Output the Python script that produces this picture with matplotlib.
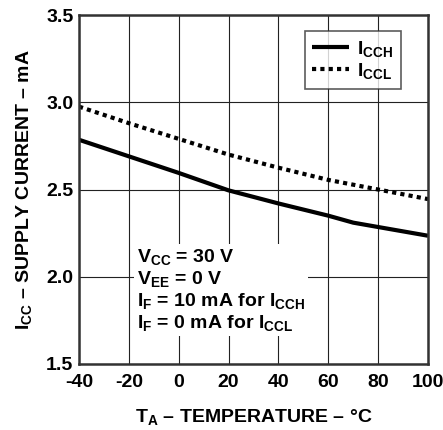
import numpy as np
import matplotlib
matplotlib.use("Agg")
import matplotlib.pyplot as plt

plt.rcParams['font.family'] = ['Liberation Sans', 'DejaVu Sans']
plt.rcParams['font.weight'] = 'bold'
plt.rcParams['mathtext.fontset'] = 'custom'
plt.rcParams['mathtext.rm'] = 'Liberation Sans:bold'
plt.rcParams['mathtext.bf'] = 'Liberation Sans:bold'
plt.rcParams['mathtext.it'] = 'Liberation Sans:bold'

# temperature points (deg C)
tempH = [-40, -20, 0, 20, 40, 60, 70, 80, 100]
icch = [2.785, 2.69, 2.595, 2.495, 2.42, 2.35, 2.31, 2.285, 2.235]
tempL = [-40, -20, 0, 20, 40, 60, 80, 100]
iccl = [2.975, 2.88, 2.79, 2.70, 2.625, 2.555, 2.50, 2.445]

xticks = [-40, -20, 0, 20, 40, 60, 80, 100]
yticks = [1.5, 2.0, 2.5, 3.0, 3.5]
fs = 14

fig = plt.figure(figsize=(4.43, 4.30), dpi=100)
ax = fig.add_axes([79/443, 1-364/430, 349/443, 349/430])

ax.plot(tempH, icch, color='black', lw=3, solid_capstyle='butt', label=r'$\mathrm{I_{CCH}}$')
ax.plot(tempL, iccl, color='black', lw=3, ls=(0, (1.0, 1.0)), label=r'$\mathrm{I_{CCL}}$')

ax.set_xlim(-40, 100)
ax.set_ylim(1.5, 3.5)
ax.set_xticks(xticks)
ax.set_yticks(yticks)
ax.set_xticklabels([str(t) for t in xticks], fontsize=fs, fontweight='bold')
ax.set_yticklabels(['%.1f' % v for v in yticks], fontsize=fs, fontweight='bold')
ax.tick_params(axis='x', length=0, pad=7)
ax.tick_params(axis='y', length=0, pad=4)
ax.grid(True, color='#222222', lw=0.8)
for s in ax.spines.values():
    s.set_linewidth(1.8)
    s.set_color('#333333')

ax.set_xlabel(r'$\mathrm{T_A}$ – TEMPERATURE – °C', fontsize=fs, fontweight='bold', labelpad=12)
ax.set_ylabel(r'$\mathrm{I_{CC}}$ – SUPPLY CURRENT – mA', fontsize=fs, fontweight='bold', labelpad=9)

leg = ax.legend(loc='upper right', bbox_to_anchor=(0.923, 0.954), borderaxespad=0, fontsize=fs,
                handlelength=1.9, handletextpad=0.4, borderpad=0.4, labelspacing=0.1,
                frameon=True, fancybox=False, edgecolor='#333333')
leg.get_frame().set_linewidth(1.2)

note = (r'$\mathrm{V_{CC}}$ = 30 V' + '\n' +
        r'$\mathrm{V_{EE}}$ = 0 V' + '\n' +
        r'$\mathrm{I_F}$ = 10 mA for $\mathrm{I_{CCH}}$' + '\n' +
        r'$\mathrm{I_F}$ = 0 mA for $\mathrm{I_{CCL}}$')
ax.text(0.165, 0.335, note, transform=ax.transAxes, fontsize=fs, fontweight='bold',
        va='top', ha='left', linespacing=1.13,
        bbox=dict(facecolor='white', edgecolor='none', pad=2))

fig.savefig('out.png', dpi=100)
